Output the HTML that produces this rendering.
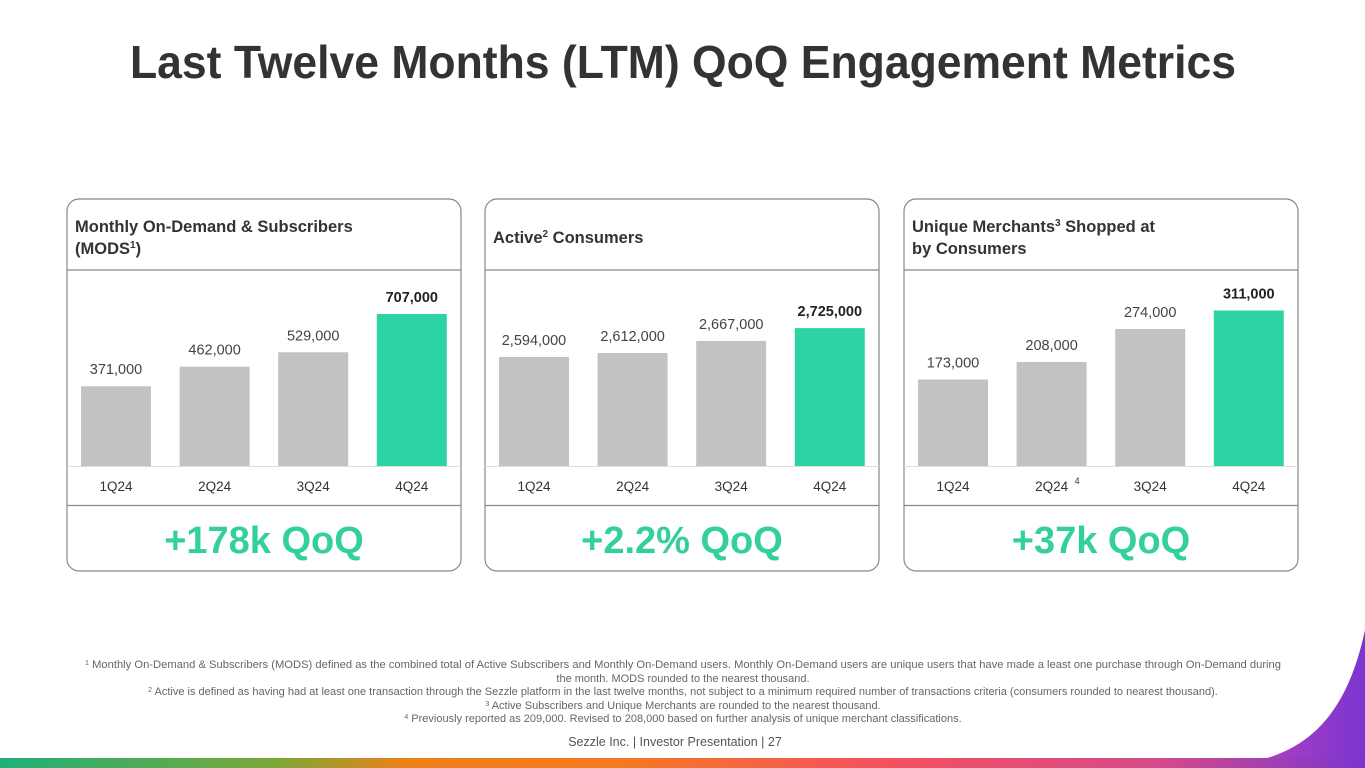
<!DOCTYPE html>
<html><head><meta charset="utf-8">
<style>
html,body{margin:0;padding:0;background:#fff;}
svg{display:block;font-family:"Liberation Sans",sans-serif;}
</style></head>
<body>
<svg id="root" width="1365" height="768" viewBox="0 0 1365 768">
  <defs>
    <linearGradient id="bottomGrad" x1="0" x2="1" y1="0" y2="0">
      <stop offset="0" stop-color="#1fb07a"/>
      <stop offset="0.2" stop-color="#7aa838"/>
      <stop offset="0.3" stop-color="#f08018"/>
      <stop offset="0.45" stop-color="#f57a20"/>
      <stop offset="0.65" stop-color="#f55060"/>
      <stop offset="0.85" stop-color="#d44a8a"/>
      <stop offset="1" stop-color="#7a35d0"/>
    </linearGradient>
    <linearGradient id="cornerGrad" x1="0" x2="1" y1="0" y2="0">
      <stop offset="0" stop-color="#b040c0"/>
      <stop offset="1" stop-color="#7a35d0"/>
    </linearGradient>
  </defs>
  <path d="M1365,630 C1350,700 1320,745 1260,760 L1365,760 Z" fill="url(#cornerGrad)"/>
  <rect x="0" y="758" width="1365" height="10" fill="url(#bottomGrad)"/>

  <text x="683" y="78" text-anchor="middle" font-size="46" font-weight="bold" fill="#333" textLength="1106" lengthAdjust="spacingAndGlyphs">Last Twelve Months (LTM) QoQ Engagement Metrics</text>

  <g id="panels"></g>

  <g font-size="11" fill="#666" text-anchor="middle">
    <text x="683" y="668" textLength="1196" lengthAdjust="spacingAndGlyphs"><tspan font-size="7" dy="-3">1</tspan><tspan dy="3"> Monthly On-Demand &amp; Subscribers (MODS) defined as the combined total of Active Subscribers and Monthly On-Demand users. Monthly On-Demand users are unique users that have made a least one purchase through On-Demand during</tspan></text>
    <text x="683" y="682">the month. MODS rounded to the nearest thousand.</text>
    <text x="683" y="695"><tspan font-size="7" dy="-3">2</tspan><tspan dy="3"> Active is defined as having had at least one transaction through the Sezzle platform in the last twelve months, not subject to a minimum required number of transactions criteria (consumers rounded to nearest thousand).</tspan></text>
    <text x="683" y="709"><tspan font-size="7" dy="-3">3</tspan><tspan dy="3"> Active Subscribers and Unique Merchants are rounded to the nearest thousand.</tspan></text>
    <text x="683" y="722"><tspan font-size="7" dy="-3">4</tspan><tspan dy="3"> Previously reported as 209,000. Revised to 208,000 based on further analysis of unique merchant classifications.</tspan></text>
  </g>
  <text x="675" y="746" text-anchor="middle" font-size="12.5" fill="#555">Sezzle Inc. | Investor Presentation | 27</text>
</svg>
<script>
const categories = ["1Q24","2Q24","3Q24","4Q24"];
const modsValues = [371000, 462000, 529000, 707000];
const modsLabels = ["371,000","462,000","529,000","707,000"];
const activeValues = [2594000, 2612000, 2667000, 2725000];
const activeLabels = ["2,594,000","2,612,000","2,667,000","2,725,000"];
const merchantValues = [173000, 208000, 274000, 311000];
const merchantLabels = ["173,000","208,000","274,000","311,000"];
const qoqTexts = ["+178k QoQ","+2.2% QoQ","+37k QoQ"];

const NS = "http://www.w3.org/2000/svg";
const root = document.getElementById("panels");
function mk(tag, attrs, parent){
  const e = document.createElementNS(NS, tag);
  for (const k in attrs) e.setAttribute(k, attrs[k]);
  parent.appendChild(e);
  return e;
}
const panels = [
  {x:67, title:["Monthly On-Demand & Subscribers","(MODS|1|)"], vals:modsValues, labels:modsLabels, min:0, pxPer:152/707000, qoq:qoqTexts[0]},
  {x:485, title:["Active|2| Consumers"], vals:activeValues, labels:activeLabels, min:2101000, pxPer:0.000221, qoq:qoqTexts[1]},
  {x:904, title:["Unique Merchants|3| Shopped at","by Consumers"], vals:merchantValues, labels:merchantLabels, min:0, pxPer:0.0005, qoq:qoqTexts[2]}
];
const baseY = 466;
panels.forEach((p, pi) => {
  const g = mk("g", {}, root);
  
  
  const box = mk("rect", {x:p.x, y:199, width:394, height:372, rx:12, fill:"#fff", stroke:"#888", "stroke-width":1.2}, g);
  
  
  const l1 = mk("line", {x1:p.x, x2:p.x+394, y1:270, y2:270, stroke:"#888", "stroke-width":1.2}, g);
  
  
  const l2 = mk("line", {x1:p.x, x2:p.x+394, y1:505.5, y2:505.5, stroke:"#888", "stroke-width":1.2}, g);
  
  
  const l3 = mk("line", {x1:p.x, x2:p.x+394, y1:baseY+0.5, y2:baseY+0.5, stroke:"#ddd", "stroke-width":1}, g);
  
  
  const startY = p.title.length === 2 ? 232 : 243;
  p.title.forEach((line, li) => {
    const t = mk("text", {x:p.x+8, y:startY + li*22, "font-size":16.5, "font-weight":"bold", fill:"#333"}, g);
    
    
    const parts = line.split("|");
    parts.forEach((part, k) => {
      const ts = mk("tspan", {}, t);
      if (k % 2 === 1) { ts.setAttribute("font-size", "10"); ts.setAttribute("dy", "-6"); }
      else if (k > 0) { ts.setAttribute("dy", "6"); }
      ts.textContent = part;
    });
  });
  p.vals.forEach((v, i) => {
    const bx = p.x + 14 + i*98.6;
    const h = (v - p.min) * p.pxPer;
    const isLast = i === p.vals.length - 1;
    const r = mk("rect", {x:bx, y:baseY - h, width:70, height:h, fill: isLast ? "#2ed3a3" : "#c2c2c2"}, g);
    
    
    const vl = mk("text", {x:bx+35, y:baseY - h - 12, "text-anchor":"middle", "font-size":14.5, fill: isLast ? "#222" : "#444", "font-weight": isLast ? "bold" : "normal"}, g);
    
    
    vl.textContent = p.labels[i];
    const cl = mk("text", {x:bx+35, y:491, "text-anchor":"middle", "font-size":13.5, fill:"#333"}, g);
    
    
    cl.textContent = categories[i];
    if (pi === 2 && i === 1) {
      const s = mk("text", {x:bx+58, y:484, "font-size":9, fill:"#333"}, g);
      
      
      s.textContent = "4";
    }
  });
  const q = mk("text", {x:p.x+197, y:553, "text-anchor":"middle", "font-size":38, "font-weight":"bold", fill:"#33cf9c"}, g);
  
  
  q.textContent = p.qoq;
});
</script>
</body></html>
